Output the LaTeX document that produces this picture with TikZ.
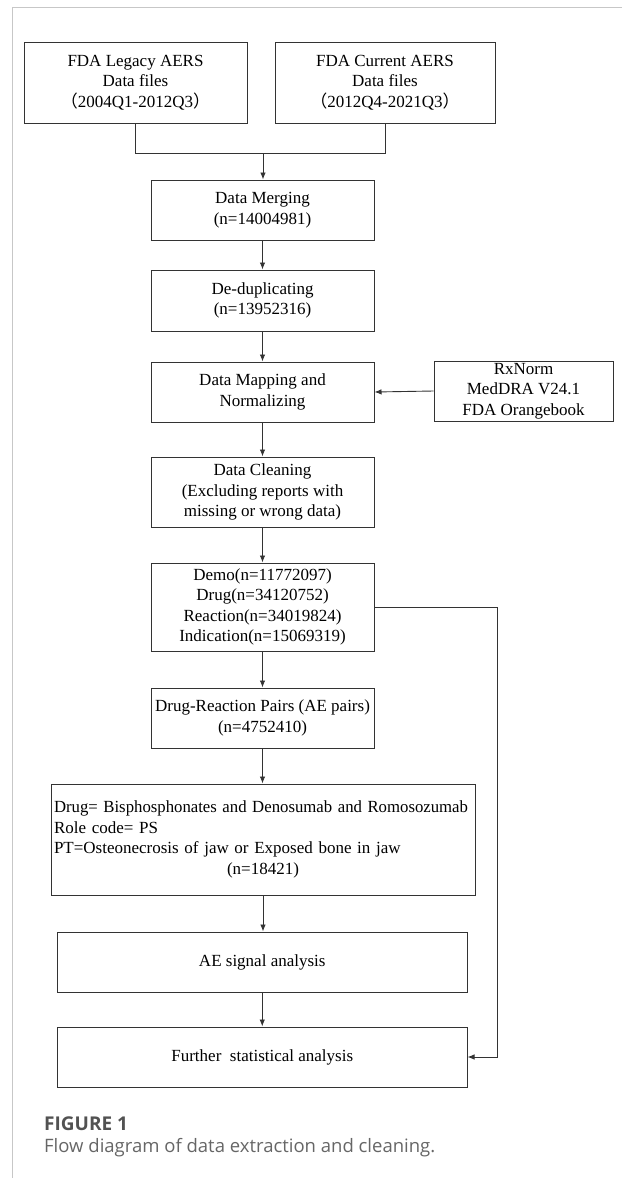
\documentclass[tikz,border=0pt]{standalone}
\usepackage{graphicx}
\usepackage{fontspec}
\setmainfont{Liberation Serif}
\newfontfamily\capfont{Open Sans}
\newfontfamily\cjkfont{Noto Sans CJK SC}
\usetikzlibrary{arrows.meta}
\begin{document}
\begin{tikzpicture}[x=1pt,y=-1pt,
  box/.style={draw=black!80, line width=1pt, rectangle, inner sep=0pt, align=center, font=\fontsize{17}{20.5}\selectfont},
  arr/.style={draw=black!80, line width=0.9pt, -{Latex[length=7pt,width=5.5pt]}},
  ln/.style={draw=black!80, line width=0.9pt},
  framel/.style={draw=black!22, line width=1.5pt}]
\useasboundingbox (0,0) rectangle (622,1178);
\draw[framel] (622,7.5) -- (12.5,7.5) -- (12.5,1178);

\node[box, minimum width=223pt, minimum height=81pt] (leg) at (135.5,82.5)
  {FDA Legacy AERS\\Data files\\{\cjkfont （}2004Q1-2012Q3{\cjkfont ）}};
\node[box, minimum width=220pt, minimum height=81pt] (cur) at (385,82.5)
  {FDA Current AERS\\Data files\\{\cjkfont （}2012Q4-2021Q3{\cjkfont ）}};
\node[box, minimum width=223pt, minimum height=60pt] (merge) at (262.5,210)
  {Data Merging\\(n=14004981)};
\node[box, minimum width=223pt, minimum height=61pt] (dedup) at (262.5,300.5)
  {De-duplicating\\(n=13952316)};
\node[box, minimum width=223pt, minimum height=60pt] (map) at (262.5,392)
  {Data Mapping and\\Normalizing};
\node[box, minimum width=179pt, minimum height=60pt] (rx) at (523.5,391)
  {RxNorm\\MedDRA V24.1\\FDA Orangebook};
\node[box, minimum width=223pt, minimum height=70pt] (clean) at (262.5,492)
  {Data Cleaning\\(Excluding reports with\\missing or wrong data)};
\node[box, minimum width=223pt, minimum height=88pt] (demo) at (262.5,607)
  {Demo(n=11772097)\\Drug(n=34120752)\\Reaction(n=34019824)\\Indication(n=15069319)};
\node[box, minimum width=223pt, minimum height=60pt] (drp) at (262.5,718)
  {Drug-Reaction Pairs (AE pairs)\\(n=4752410)};
\node[box, text width=418pt, inner xsep=3pt, minimum height=111pt, align=left] (sel) at (263,839.5)
  {\resizebox{414pt}{\height}{Drug= Bisphosphonates and Denosumab and Romosozumab}\\Role code= PS\\PT=Osteonecrosis of jaw or Exposed bone in jaw\\\makebox[418pt][c]{(n=18421)}};
\node[box, minimum width=409.5pt, minimum height=60pt] (ae) at (262.25,962)
  {AE signal analysis};
\node[box, minimum width=409.5pt, minimum height=60pt] (fur) at (262.25,1057)
  {Further\ \ statistical analysis};

\coordinate (j) at (263,153);
\coordinate (rc) at (497.5,607);

\draw[ln] (leg.south) -- (leg.south |- j) -| (cur.south);
\draw[arr] (j) -- (j |- merge.north);
\draw[arr] (merge) -- (dedup);
\draw[arr] (dedup) -- (map);
\draw[arr] (rx.west) -- (map.east);
\draw[arr] (map) -- (clean);
\draw[arr] (clean) -- (demo);
\draw[arr] (demo) -- (drp);
\draw[arr] (drp.south) -- (drp.south |- sel.north);
\draw[arr] (sel.south) -- (sel.south |- ae.north);
\draw[arr] (ae) -- (fur);
\draw[arr] (demo.east) -- (rc) |- (fur.east);

\node[anchor=west, inner sep=0pt, text=black!68, font=\capfont\fontsize{19}{22}\selectfont\bfseries] (fig) at (44,1124) {FIGURE 1};
\node[anchor=west, inner sep=0pt, text=black!60, font=\capfont\fontsize{18.5}{22}\selectfont] (cap) at (44,1148) {Flow diagram of data extraction and cleaning.};
\end{tikzpicture}
\end{document}
